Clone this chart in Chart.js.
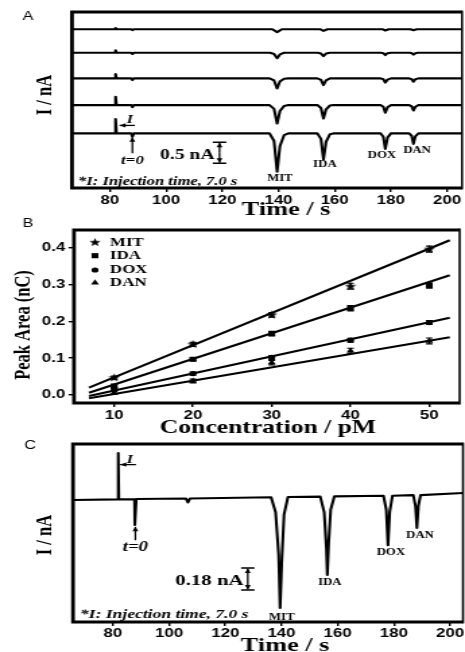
<!DOCTYPE html>
<html>
<head>
<meta charset="utf-8">
<script src="https://cdn.jsdelivr.net/npm/chart.js@4.4.1/dist/chart.umd.min.js"></script>
<style>
  html, body { margin: 0; padding: 0; background: #fff; }
  body { width: 465px; height: 652px; position: relative; overflow: hidden; }
  canvas { position: absolute; left: 0; transform-origin: 0 0; }
</style>
</head>
<body>
<canvas id="chartA" width="345" height="222"></canvas>
<canvas id="chartB" width="345" height="222"></canvas>
<canvas id="chartC" width="345" height="217"></canvas>
<script>
// the figure is wider than tall in its text, so each canvas is drawn narrow and stretched
const K = 465 / 345;
const px = v => v / K;

// ---------- A: electropherograms, bottom trace first (current in nA, time in s)
const peakNames = ['MIT', 'IDA', 'DOX', 'DAN'];
const offsetsA = [0, 0.674, 1.31, 1.92, 2.48];
const traceA1 = [[66.5,0],[82,0],[82,0.34],[82.3,0],[87.6,0],[88,-0.08],[88.5,0],[136.8,0],[138.4,-0.18],[139.5,-0.91],[140.5,-0.3],[142,-0.04],[143.5,0],[153.8,0],[155.1,-0.13],[156,-0.62],[156.9,-0.2],[158.3,-0.02],[159.5,0],[176.3,0],[177.3,-0.08],[178,-0.37],[178.8,-0.1],[180,0],[186.5,0],[187.4,-0.06],[188,-0.25],[188.7,-0.07],[189.8,0],[205.3,0]];
const traceA2 = [[66.5,0],[82,0],[82,0.2],[82.3,0],[87.6,0],[88,-0.05],[88.5,0],[136.8,0],[138.4,-0.09],[139.5,-0.44],[140.5,-0.14],[142,-0.02],[143.5,0],[153.8,0],[155.1,-0.07],[156,-0.32],[156.9,-0.1],[158.3,-0.01],[159.5,0],[176.3,0],[177.3,-0.04],[178,-0.18],[178.8,-0.05],[180,0],[186.5,0],[187.4,-0.03],[188,-0.13],[188.7,-0.04],[189.8,0],[205.3,0]];
const traceA3 = [[66.5,0],[82,0],[82,0.1],[82.3,0],[87.6,0],[88,-0.04],[88.5,0],[136.8,0],[138.4,-0.05],[139.5,-0.24],[140.5,-0.07],[142,-0.01],[143.5,0],[153.8,0],[155.1,-0.035],[156,-0.16],[156.9,-0.05],[158.3,0],[176.3,0],[177.3,-0.02],[178,-0.1],[178.8,-0.03],[180,0],[186.5,0],[187.4,-0.02],[188,-0.08],[188.7,-0.02],[189.8,0],[205.3,0]];
const traceA4 = [[66.5,0],[82,0],[82,0.06],[82.3,0],[87.6,0],[88,-0.03],[88.5,0],[137,0],[138.4,-0.03],[139.5,-0.13],[140.5,-0.04],[142,0],[154,0],[155.1,-0.02],[156,-0.08],[156.9,-0.02],[158.3,0],[176.5,0],[177.3,-0.01],[178,-0.055],[178.8,-0.01],[180,0],[186.8,0],[187.4,-0.01],[188,-0.045],[188.7,-0.01],[189.6,0],[205.3,0]];
const traceA5 = [[66.5,0],[82,0],[82,0.03],[82.3,0],[87.6,0],[88,-0.02],[88.5,0],[137.8,0],[139.5,-0.07],[141.2,0],[154.8,0],[156,-0.04],[157.4,0],[177,0],[178,-0.03],[179.2,0],[187,0],[188,-0.025],[189.2,0],[205.3,0]];
const tracesA = [traceA1, traceA2, traceA3, traceA4, traceA5];

// ---------- B: calibration, peak area (nC) vs concentration (pM)
const conc = [10, 20, 30, 40, 50];
const mitArea = [0.047, 0.138, 0.218, 0.296, 0.397];
const idaArea = [0.024, 0.097, 0.167, 0.236, 0.298];
const doxArea = [0.015, 0.058, 0.102, 0.149, 0.197];
const danArea = [0.006, 0.038, 0.088, 0.120, 0.147];
const mitErr = [0.004, 0.005, 0.006, 0.008, 0.008];
const idaErr = [0.005, 0.004, 0.006, 0.007, 0.007];
const doxErr = [0.004, 0.004, 0.005, 0.005, 0.005];
const danErr = [0.004, 0.005, 0.006, 0.007, 0.008];
const fitConc = [6.8, 52.6];
const mitFit = [0.020, 0.421];
const idaFit = [0.006, 0.326];
const doxFit = [-0.003, 0.210];
const danFit = [-0.009, 0.157];

// ---------- C: single electropherogram
const traceC = [[65.8,0],[81.8,0.005],[81.9,0.385],[82.1,0.005],[87.7,0.005],[87.8,-0.205],[88.2,-0.205],[88.3,0.008],[106,0.012],[106.7,-0.02],[107.4,0.012],[136.3,0.022],[137.9,-0.1],[139,-0.45],[139.5,-0.885],[140.1,-0.5],[140.9,-0.12],[142.3,0.025],[153.8,0.028],[155.2,-0.1],[156,-0.4],[156.3,-0.615],[156.8,-0.35],[157.5,-0.08],[158.8,0.03],[176.3,0.035],[177.3,-0.08],[177.9,-0.37],[178.5,-0.1],[179.5,0.035],[186.9,0.04],[187.7,-0.05],[188.2,-0.23],[188.7,-0.05],[189.5,0.04],[204.6,0.058]];

const SERIF = '"Liberation Serif", "Times New Roman", serif';
const tickFont = { family: '"Liberation Sans", Arial, sans-serif', size: 12.5, weight: 'bold' };

function text(ctx, s, x, y, font, align) {
  ctx.save();
  ctx.font = font;
  ctx.fillStyle = '#000';
  ctx.textAlign = align || 'center';
  ctx.textBaseline = 'middle';
  ctx.fillText(s, x, y);
  ctx.restore();
}

function vtext(ctx, s, x, y, font) {
  ctx.save();
  ctx.translate(x, y);
  ctx.rotate(-Math.PI / 2);
  text(ctx, s, 0, 0, font);
  ctx.restore();
}

function drawFrame(ctx, a) {
  ctx.save();
  ctx.strokeStyle = '#000';
  ctx.lineWidth = 2.8;
  ctx.beginPath();
  ctx.moveTo(a.right, a.top);
  ctx.lineTo(a.left, a.top);
  ctx.lineTo(a.left, a.bottom);
  ctx.lineTo(a.right, a.bottom);
  ctx.stroke();
  ctx.lineWidth = 1.6;
  ctx.beginPath();
  ctx.moveTo(a.right, a.top - 1.4);
  ctx.lineTo(a.right, a.bottom + 1.4);
  ctx.stroke();
  ctx.restore();
}

function arrow(ctx, x1, y1, x2, y2) {
  const ang = Math.atan2(y2 - y1, x2 - x1);
  ctx.save();
  ctx.strokeStyle = '#000';
  ctx.fillStyle = '#000';
  ctx.lineWidth = 1.3;
  ctx.beginPath();
  ctx.moveTo(x1, y1);
  ctx.lineTo(x2, y2);
  ctx.stroke();
  ctx.translate(x2, y2);
  ctx.rotate(ang);
  ctx.beginPath();
  ctx.moveTo(0, 0);
  ctx.lineTo(-4.5, -2.2);
  ctx.lineTo(-4.5, 2.2);
  ctx.closePath();
  ctx.fill();
  ctx.restore();
}

function scaleBar(ctx, x, y1, y2) {
  ctx.save();
  ctx.strokeStyle = '#000';
  ctx.lineWidth = 1.5;
  ctx.beginPath();
  ctx.moveTo(x - 5, y1); ctx.lineTo(x + 5, y1);
  ctx.moveTo(x - 5, y2); ctx.lineTo(x + 5, y2);
  ctx.stroke();
  ctx.restore();
  const mid = (y1 + y2) / 2;
  arrow(ctx, x, mid, x, y1 + 0.5);
  arrow(ctx, x, mid, x, y2 - 0.5);
}

function timeAxis(min, max, h, pad) {
  return {
    type: 'linear', min, max,
    afterFit: s => { s.height = h; },
    ticks: { stepSize: 20, includeBounds: false, color: '#000', font: tickFont, padding: pad, maxRotation: 0 },
    grid: { drawOnChartArea: false, color: '#000', lineWidth: 1.4, tickLength: 4 },
    border: { display: false }
  };
}

function hiddenY(min, max, w) {
  return {
    type: 'linear', min, max,
    afterFit: s => { s.width = w; },
    ticks: { display: false },
    grid: { display: false },
    border: { display: false }
  };
}

function traceSet(points, offset) {
  return {
    data: points.map(([t, v]) => ({ x: t, y: v + offset })),
    borderColor: '#000', borderWidth: 2.1, pointRadius: 0, tension: 0, fill: false,
    borderJoinStyle: 'round'
  };
}

const baseOptions = {
  responsive: false, animation: false, devicePixelRatio: 1,
  plugins: { legend: { display: false }, tooltip: { enabled: false } }
};

function place(id, top) {
  const c = document.getElementById(id);
  c.style.top = top + 'px';
  return c;
}

// ---------- chart A
const panelA = {
  id: 'panelA',
  afterDraw(chart) {
    const { ctx, chartArea: a } = chart;
    const X = v => chart.scales.x.getPixelForValue(v);
    const Y = v => chart.scales.y.getPixelForValue(v);
    drawFrame(ctx, a);
    text(ctx, 'A', px(28), 17, '12px "Liberation Sans", Arial');
    vtext(ctx, 'I / nA', px(46), 95, 'bold 16.5px ' + SERIF);
    text(ctx, 'Time / s', px(286), 210, 'bold 19.5px ' + SERIF);
    const labelPos = [[140.5, -1.07], [156.5, -0.74], [176.8, -0.52], [189.3, -0.40]];
    peakNames.forEach((n, i) => text(ctx, n, X(labelPos[i][0]), Y(labelPos[i][1]), 'bold 9.5px ' + SERIF));
    text(ctx, 'I', X(87.1), Y(0.31), 'italic bold 12px ' + SERIF);
    arrow(ctx, X(88.9), Y(0.19), X(83.4), Y(0.19));
    arrow(ctx, X(88), Y(-0.47), X(88), Y(-0.09));
    text(ctx, 't=0', X(88), Y(-0.66), 'italic bold 12.5px ' + SERIF);
    scaleBar(ctx, X(119), Y(-0.21), Y(-0.71));
    text(ctx, '0.5 nA', X(117.2), Y(-0.52), 'bold 14.5px ' + SERIF, 'right');
    text(ctx, '*I: Injection time, 7.0 s', px(78), 181.5, 'italic bold 12.3px ' + SERIF, 'left');
  }
};

new Chart(place('chartA', 0), {
  type: 'line',
  data: { datasets: tracesA.map((tr, i) => traceSet(tr, offsetsA[i])) },
  options: {
    ...baseOptions,
    layout: { padding: { top: 12, right: 345 - px(462), bottom: 0, left: 0 } },
    scales: { x: timeAxis(66.5, 205.3, 222 - 188, 1), y: hiddenY(-1.30, 2.89, px(72)) }
  },
  plugins: [panelA]
});

// ---------- chart B
const starImg = document.createElement('canvas');
starImg.width = 9; starImg.height = 9;
(function () {
  const g = starImg.getContext('2d');
  g.fillStyle = '#000';
  g.beginPath();
  for (let k = 0; k < 10; k++) {
    const r = k % 2 ? 1.9 : 4.5;
    const ang = -Math.PI / 2 + k * Math.PI / 5;
    g.lineTo(4.5 + r * Math.cos(ang), 4.7 + r * Math.sin(ang));
  }
  g.closePath();
  g.fill();
})();

const seriesB = [
  { name: 'MIT', area: mitArea, err: mitErr, fit: mitFit, style: starImg, r: 4 },
  { name: 'IDA', area: idaArea, err: idaErr, fit: idaFit, style: 'rect', r: 3.6 },
  { name: 'DOX', area: doxArea, err: doxErr, fit: doxFit, style: 'circle', r: 2.6 },
  { name: 'DAN', area: danArea, err: danErr, fit: danFit, style: 'triangle', r: 3.4 }
];

const panelB = {
  id: 'panelB',
  afterDraw(chart) {
    const { ctx, chartArea: a } = chart;
    const X = v => chart.scales.x.getPixelForValue(v);
    const Y = v => chart.scales.y.getPixelForValue(v);
    // error bars
    ctx.save();
    ctx.strokeStyle = '#000';
    ctx.lineWidth = 1.2;
    seriesB.forEach(s => {
      conc.forEach((c, i) => {
        const x = X(c), y1 = Y(s.area[i] + s.err[i]), y2 = Y(s.area[i] - s.err[i]);
        ctx.beginPath();
        ctx.moveTo(x, y1); ctx.lineTo(x, y2);
        ctx.moveTo(x - 2.5, y1); ctx.lineTo(x + 2.5, y1);
        ctx.moveTo(x - 2.5, y2); ctx.lineTo(x + 2.5, y2);
        ctx.stroke();
      });
    });
    ctx.restore();
    drawFrame(ctx, a);
    text(ctx, 'B', px(28), 6, '12px "Liberation Sans", Arial');
    vtext(ctx, 'Peak Area (nC)', px(24), 107, 'bold 16.5px ' + SERIF);
    text(ctx, 'Concentration / pM', px(268), 210, 'bold 19px ' + SERIF);
    // legend inside the plot
    const rows = [24.3, 37.7, 52, 64.7];
    seriesB.forEach((s, i) => {
      ctx.save();
      ctx.fillStyle = '#000';
      ctx.strokeStyle = '#000';
      Chart.helpers.drawPoint(ctx, { pointStyle: s.style, radius: s.r, rotation: 0, borderWidth: 0 }, px(95), rows[i]);
      ctx.restore();
      text(ctx, s.name, px(110), rows[i], 'bold 12.5px ' + SERIF, 'left');
    });
  }
};

const datasetsB = [];
seriesB.forEach(s => {
  datasetsB.push({
    type: 'line',
    data: fitConc.map((c, i) => ({ x: c, y: s.fit[i] })),
    borderColor: '#000', borderWidth: 2.1, pointRadius: 0, tension: 0
  });
  datasetsB.push({
    type: 'scatter',
    data: conc.map((c, i) => ({ x: c, y: s.area[i] })),
    pointStyle: s.style, pointRadius: s.r, backgroundColor: '#000', borderColor: '#000', borderWidth: 0
  });
});

new Chart(place('chartB', 218), {
  type: 'scatter',
  data: { datasets: datasetsB },
  options: {
    ...baseOptions,
    layout: { padding: { top: 12, right: 345 - px(462), bottom: 0, left: 0 } },
    scales: {
      x: {
        type: 'linear', min: 4.9, max: 53.85,
        afterFit: s => { s.height = 222 - 185; },
        ticks: { stepSize: 10, includeBounds: false, color: '#000', font: tickFont, padding: 1, maxRotation: 0 },
        grid: { drawOnChartArea: false, color: '#000', lineWidth: 1.4, tickLength: 4 },
        border: { display: false }
      },
      y: {
        type: 'linear', min: -0.022, max: 0.449,
        afterFit: s => { s.width = px(74); },
        ticks: { stepSize: 0.1, includeBounds: false, color: '#000', font: tickFont, padding: 2.5, callback: v => v.toFixed(1) },
        grid: { drawOnChartArea: false, color: '#000', lineWidth: 1.4, tickLength: 4 },
        border: { display: false }
      }
    }
  },
  plugins: [panelB]
});

// ---------- chart C
const panelC = {
  id: 'panelC',
  afterDraw(chart) {
    const { ctx, chartArea: a } = chart;
    const X = v => chart.scales.x.getPixelForValue(v);
    const Y = v => chart.scales.y.getPixelForValue(v);
    drawFrame(ctx, a);
    text(ctx, 'C', px(30), 11, '12px "Liberation Sans", Arial');
    vtext(ctx, 'I / nA', px(45), 100, 'bold 16.5px ' + SERIF);
    text(ctx, 'Time / s', px(285), 211, 'bold 19.5px ' + SERIF);
    const labelPos = [[140.1, -0.96], [157.2, -0.68], [178.9, -0.43], [189.3, -0.29]];
    peakNames.forEach((n, i) => text(ctx, n, X(labelPos[i][0]), Y(labelPos[i][1]), 'bold 9.5px ' + SERIF));
    text(ctx, 'I', X(86), Y(0.33), 'italic bold 12px ' + SERIF);
    arrow(ctx, X(88.2), Y(0.29), X(82.6), Y(0.29));
    arrow(ctx, X(88), Y(-0.33), X(88), Y(-0.22));
    text(ctx, 't=0', X(88), Y(-0.39), 'italic bold 14px ' + SERIF);
    scaleBar(ctx, X(128), Y(-0.557), Y(-0.738));
    text(ctx, '0.18 nA', X(126.5), Y(-0.66), 'bold 15.5px ' + SERIF, 'right');
    text(ctx, '*I: Injection time, 7.0 s', px(80), 180, 'italic bold 13px ' + SERIF, 'left');
  }
};

new Chart(place('chartC', 435), {
  type: 'line',
  data: { datasets: [traceSet(traceC, 0)] },
  options: {
    ...baseOptions,
    layout: { padding: { top: 9, right: 345 - px(463), bottom: 0, left: 0 } },
    scales: { x: timeAxis(65.8, 204.6, 217 - 187, 0), y: hiddenY(-1.0, 0.459, px(73)) }
  },
  plugins: [panelC]
});

// stretch the narrow canvases to the page width
['chartA', 'chartB', 'chartC'].forEach(id => {
  document.getElementById(id).style.transform = 'scaleX(' + K + ')';
});
</script>
</body>
</html>
